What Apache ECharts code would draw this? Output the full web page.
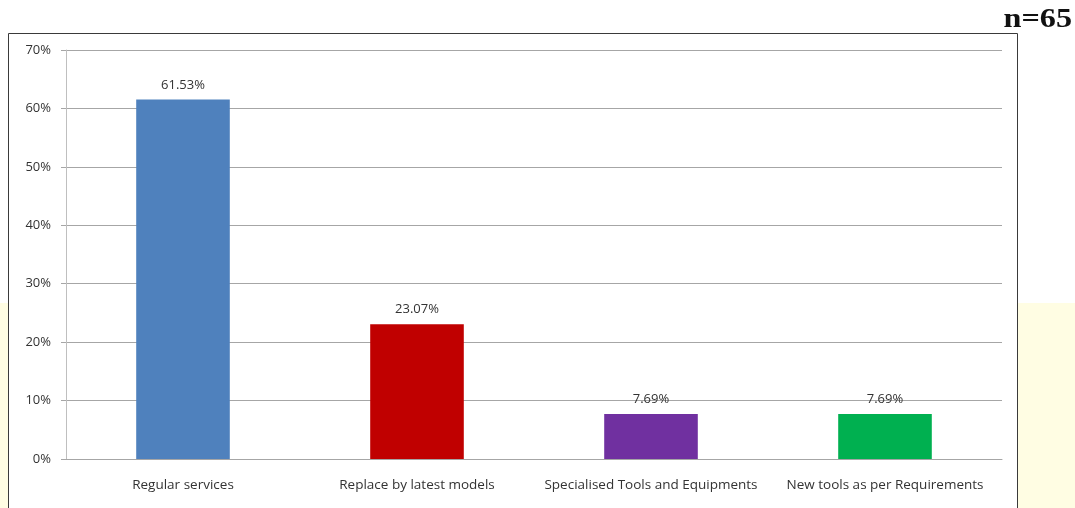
<!DOCTYPE html>
<html>
<head>
<meta charset="utf-8">
<script src="https://cdn.jsdelivr.net/npm/echarts@6/dist/echarts.min.js"></script>
<style>
  html, body { margin: 0; padding: 0; background: #ffffff; }
  #chart { width: 1075px; height: 508px; }
</style>
</head>
<body>
<div id="chart"></div>
<script>
// Responses: suggestions for tools and equipment (n=65)
const categories = [
  'Regular services',
  'Replace by latest models',
  'Specialised Tools and Equipments',
  'New tools as per Requirements'
];
const shares = [61.53, 23.07, 7.69, 7.69];
const barColors = ['#4F81BD', '#C00000', '#7030A0', '#00B050'];
const yTicks = [0, 10, 20, 30, 40, 50, 60, 70];
const sampleLabel = 'n=65';

const chart = echarts.init(document.getElementById('chart'), null, { renderer: 'canvas' });

const uiFont = '"Open Sans", Lato, "Liberation Sans", sans-serif';

chart.setOption({
  animation: false,
  backgroundColor: '#ffffff',
  graphic: [
    // pale yellow backdrop showing around the chart frame
    { type: 'rect', z: -10, shape: { x: 1018, y: 303, width: 57, height: 205 },
      style: { fill: '#FFFDE3' } },
    { type: 'rect', z: -10, shape: { x: 0, y: 303, width: 8, height: 205 },
      style: { fill: '#FFFDE3' } },
    // chart frame
    { type: 'rect', z: -5, shape: { x: 8.5, y: 33.5, width: 1009, height: 480 },
      style: { fill: '#ffffff', stroke: '#3a3a3a', lineWidth: 1 } },
    { type: 'text', x: 1072, y: 6, scaleX: 1.15, z: 10,
      style: { text: sampleLabel, align: 'right', verticalAlign: 'top',
        font: 'bold 28px "Liberation Serif", serif', fill: '#111111' } }
  ],
  grid: { left: 66, right: 73, top: 50, bottom: 49, containLabel: false },
  xAxis: {
    type: 'category',
    data: categories,
    axisLine: { lineStyle: { color: '#A6A6A6' } },
    axisTick: { show: false },
    axisLabel: { color: '#333333', fontSize: 13.5, fontFamily: uiFont, margin: 19, interval: 0 }
  },
  yAxis: {
    type: 'value',
    min: yTicks[0],
    max: yTicks[yTicks.length - 1],
    interval: 10,
    axisLine: { show: true, lineStyle: { color: '#BFBFBF' } },
    axisTick: { show: true, length: 5, lineStyle: { color: '#A6A6A6' } },
    axisLabel: { color: '#333333', fontSize: 13, fontFamily: uiFont, margin: 15,
      formatter: v => v + '%' },
    splitLine: { lineStyle: { color: '#A6A6A6', width: 1 } }
  },
  series: [{
    type: 'bar',
    barWidth: '40%',
    data: shares.map((v, i) => ({ value: v, itemStyle: { color: barColors[i] } })),
    label: {
      show: true,
      position: 'top',
      distance: 8,
      color: '#333333',
      fontSize: 13,
      fontFamily: uiFont,
      formatter: p => p.value.toFixed(2) + '%'
    }
  }]
});
</script>
</body>
</html>
